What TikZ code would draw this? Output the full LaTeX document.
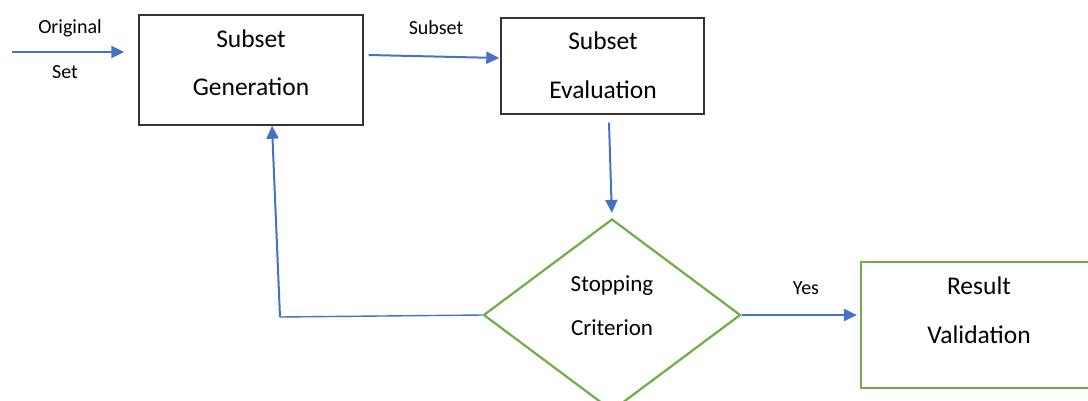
\documentclass[tikz,border=0pt]{standalone}
\usepackage{fontspec}
\setmainfont{Carlito}
\usetikzlibrary{shapes.geometric,arrows.meta,calc}
\definecolor{flowblue}{HTML}{4472C4}
\definecolor{flowgreen}{HTML}{70AD47}
\tikzset{
  procbox/.style={draw=black!80, line width=1.4pt, rectangle, inner sep=0pt},
  endbox/.style={draw=flowgreen, line width=2.2pt, rectangle, inner sep=0pt},
  decision/.style={draw=flowgreen, line width=2.2pt, diamond, inner sep=0pt},
  bigtext/.style={align=center, font=\fontsize{25.5}{48}\selectfont, inner sep=0pt},
  smalltext/.style={font=\fontsize{20}{22}\selectfont, inner sep=0pt},
  arr/.style={draw=flowblue, line width=2pt, -{Triangle[length=13pt,width=12pt]}},
  thinline/.style={draw=flowblue, line width=1.4pt}
}
\begin{document}
\begin{tikzpicture}[x=1pt,y=-1pt]
  \useasboundingbox (0,0) rectangle (1088,400);
  \begin{scope}
    \clip (0,0) rectangle (1088,400);
    % process boxes
    \node[procbox, minimum width=224pt, minimum height=110pt] (gen) at (251,70) {};
    \node[bigtext] (gentext) at (251,63) {Subset\\Generation};
    \node[procbox, minimum width=203pt, minimum height=96pt] (eval) at (602.5,66) {};
    \node[bigtext, font=\fontsize{25.5}{49}\selectfont] (evaltext) at (603,65) {Subset\\Evaluation};
    % decision
    \node[decision, minimum width=257pt, minimum height=192pt] (crit) at (612,315) {};
    \node[bigtext, font=\fontsize{23}{44}\selectfont] (crittext) at (612,306) {Stopping\\Criterion};
    % final box
    \node[endbox, minimum width=240pt, minimum height=126pt] (res) at (981,325) {};
    \node[bigtext, font=\fontsize{25.5}{49}\selectfont] (restext) at (979,310) {Result\\Validation};

    % connectors
    \coordinate (src) at (12,52);
    \draw[arr, shorten >=14pt] (src) -- (src -| gen.west);
    \draw[arr] ($(gen.east)+(5,-15)$) -- ($(eval.west)+(-1,-8)$);
    \draw[arr, shorten >=5pt] ($(eval.south)+(6.5,8)$) -- (crit.north);
    \draw[arr, shorten >=3pt] (crit.east) -- (crit.east -| res.west);
    \coordinate (fb) at (280,317);
    \draw[thinline] (crit.west) -- (fb);
    \draw[arr] (fb) -- ($(gen.south)+(21,0)$);

    % edge labels
    \node[smalltext] (lorig) at (70,28) {Original};
    \node[smalltext] (lset) at (65,72) {Set};
    \node[smalltext] (lsub) at (436,28) {Subset};
    \node[smalltext] (lyes) at (806,288) {Yes};
  \end{scope}
\end{tikzpicture}
\end{document}
